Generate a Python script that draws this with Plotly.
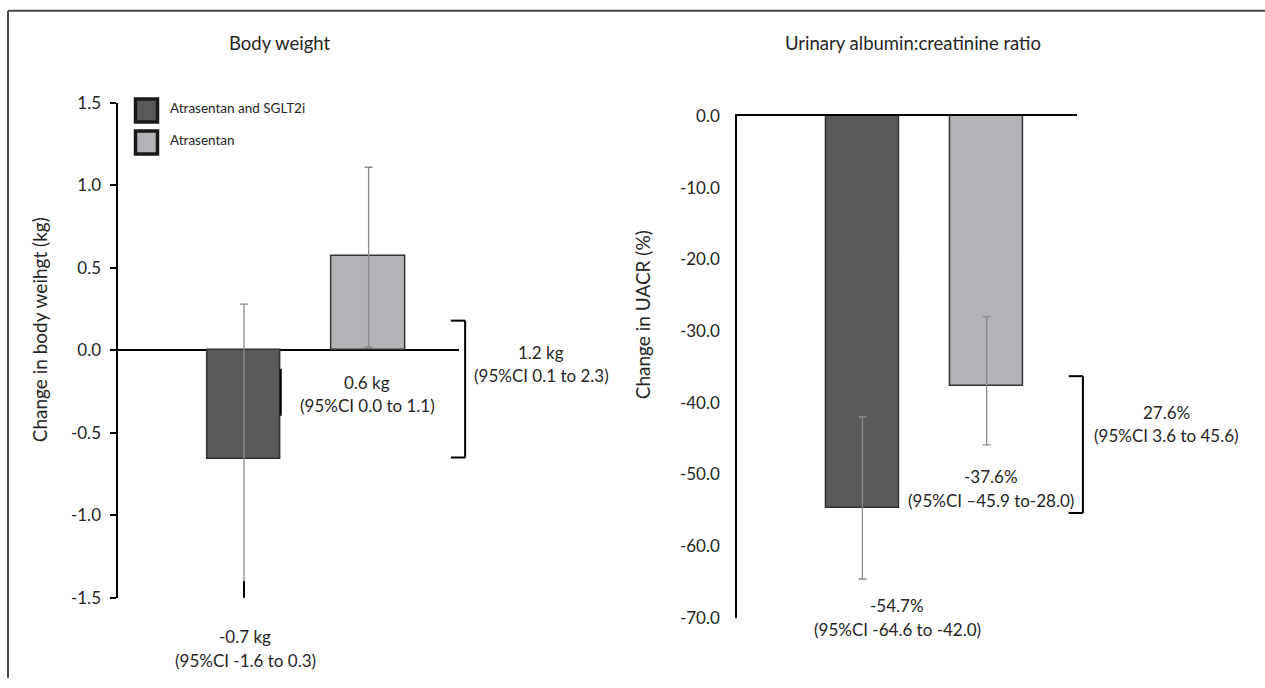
import plotly.graph_objects as go

W, H = 1265, 688
FONT = "Lato, 'Liberation Sans', sans-serif"
TXT = "#262626"

# ---------------- data ----------------
groups = ["Atrasentan and SGLT2i", "Atrasentan"]
bar_colors = ["#58595b", "#b1b3b6"]

bw_mean = [-0.66, 0.57]
bw_ci_low = [-1.60, 0.02]
bw_ci_high = [0.28, 1.11]

uacr_mean = [-54.7, -37.6]
uacr_ci_low = [-64.6, -45.9]
uacr_ci_high = [-42.0, -28.0]

bw_ticks = [1.5, 1.0, 0.5, 0.0, -0.5, -1.0, -1.5]
uacr_ticks = [0.0, -10.0, -20.0, -30.0, -40.0, -50.0, -60.0, -70.0]

# difference brackets (y extent in data units)
bw_bracket = [0.18, -0.65]
uacr_bracket = [-36.3, -55.4]

titles = ["Body weight", "Urinary albumin:creatinine ratio"]
ytitles = ["Change in body weihgt (kg)", "Change in UACR (%)"]

bw_labels = [("-0.7 kg", "(95%CI -1.6 to 0.3)"),
             ("0.6 kg", "(95%CI 0.0 to 1.1)"),
             ("1.2 kg", "(95%CI 0.1 to 2.3)")]
uacr_labels = [("-54.7%", "(95%CI -64.6 to -42.0)"),
               ("-37.6%", "(95%CI \u201345.9 to-28.0)"),
               ("27.6%", "(95%CI 3.6 to 45.6)")]


def px(x):
    return x / W


def py(y):
    # vertical pixel position (from top) -> paper fraction, with a small
    # correction for the way the page is captured
    y_in = (y - 350) * 1.033 + 350
    return 1 - y_in / H


def err(mean, lo, hi):
    plus = [h - m for m, h in zip(mean, hi)]
    minus = [m - l for m, l in zip(mean, lo)]
    return plus, minus


fig = go.Figure()

bw_plus, bw_minus = err(bw_mean, bw_ci_low, bw_ci_high)
ua_plus, ua_minus = err(uacr_mean, uacr_ci_low, uacr_ci_high)

for i, g in enumerate(groups):
    fig.add_trace(go.Bar(
        x=[g], y=[bw_mean[i]], width=0.59, name=g,
        marker=dict(color=bar_colors[i], line=dict(color="#333333", width=1.5)),
        error_y=dict(type="data", array=[bw_plus[i]], arrayminus=[bw_minus[i]],
                     color="#8a8a8a", thickness=1.3, width=4),
        xaxis="x", yaxis="y", showlegend=False))
    fig.add_trace(go.Bar(
        x=[g], y=[uacr_mean[i]], width=0.59, name=g,
        marker=dict(color=bar_colors[i], line=dict(color="#333333", width=1.5)),
        error_y=dict(type="data", array=[ua_plus[i]], arrayminus=[ua_minus[i]],
                     color="#8a8a8a", thickness=1.3, width=4),
        xaxis="x2", yaxis="y2", showlegend=False))

xr = [-1.008, 1.7255]
tickfont = dict(family=FONT, size=17, color=TXT)

fig.update_layout(
    width=W, height=H, margin=dict(l=0, r=0, t=0, b=0),
    paper_bgcolor="white", plot_bgcolor="white",
    barmode="group", bargap=0, showlegend=False,
    font=dict(family=FONT, color=TXT),
    xaxis=dict(domain=[px(118.4), px(459)], anchor="y", type="category",
               categoryorder="array", categoryarray=groups, range=xr,
               showticklabels=False, showline=False, showgrid=False,
               zeroline=False, ticks=""),
    yaxis=dict(domain=[py(597), py(103)], anchor="x", range=[-1.5, 1.5],
               tickvals=bw_ticks, ticktext=[f"{v:.1f}" for v in bw_ticks],
               showgrid=False,
               showline=True, linecolor="black", linewidth=2,
               ticks="outside", ticklen=6, tickwidth=1.5, tickcolor="black",
               zeroline=True, zerolinecolor="black", zerolinewidth=2,
               tickfont=tickfont, ticklabelstandoff=6),
    xaxis2=dict(domain=[px(737.2), px(1076.8)], anchor="y2", type="category",
                categoryorder="array", categoryarray=groups, range=xr,
                side="top", showticklabels=False, showline=True,
                linecolor="black", linewidth=2, showgrid=False,
                zeroline=False, ticks=""),
    yaxis2=dict(domain=[py(617), py(116)], anchor="x2", range=[-70, 0],
                tickvals=uacr_ticks,
                ticktext=[f"{v:.1f}" for v in uacr_ticks], showgrid=False,
                showline=True, linecolor="black", linewidth=2, ticks="",
                zeroline=False, tickfont=tickfont, ticklabelstandoff=12),
)

shapes = []
# outer frame (top and left edges)
shapes.append(dict(type="line", xref="paper", yref="paper",
                   x0=px(8), x1=1, y0=py(11), y1=py(11),
                   line=dict(color="#4a4a4a", width=2)))
shapes.append(dict(type="line", xref="paper", yref="paper",
                   x0=px(8), x1=px(8), y0=py(11), y1=0,
                   line=dict(color="#4a4a4a", width=2)))

# difference brackets
for yref, xdom, (ytop, ybot) in [("y", "x domain", bw_bracket),
                                 ("y2", "x2 domain", uacr_bracket)]:
    path_line = dict(color="black", width=2)
    shapes.append(dict(type="line", xref=xdom, yref=yref, x0=1.018, x1=1.018,
                       y0=ytop, y1=ybot, line=path_line))
    shapes.append(dict(type="line", xref=xdom, yref=yref, x0=0.976, x1=1.018,
                       y0=ytop, y1=ytop, line=path_line))
    shapes.append(dict(type="line", xref=xdom, yref=yref, x0=0.976, x1=1.018,
                       y0=ybot, y1=ybot, line=path_line))

# dark artefacts in the body weight panel (heavy strokes on bar 1)
shapes.append(dict(type="line", xref="x", yref="y", x0=0, x1=0,
                   y0=bw_ci_low[0], y1=bw_ci_low[0] + 0.2,
                   line=dict(color="black", width=2)))
shapes.append(dict(type="line", xref="x", yref="y", x0=-0.045, x1=0.045,
                   y0=bw_ci_low[0], y1=bw_ci_low[0],
                   line=dict(color="black", width=2)))
shapes.append(dict(type="line", xref="x", yref="y", x0=0.295, x1=0.295,
                   y0=bw_mean[0] * 0.17, y1=bw_mean[0] * 0.6,
                   line=dict(color="black", width=2)))

# legend swatches
for i, c in enumerate(bar_colors):
    top = 99 + i * 32
    shapes.append(dict(type="rect", xref="paper", yref="paper",
                       x0=px(135.5), x1=px(157.5), y0=py(top + 23), y1=py(top),
                       fillcolor=c, line=dict(color="#1a1a1a", width=3.5)))

fig.update_layout(shapes=shapes)

ann = []


def text(t, x, y, size=17, xanchor="center", angle=0):
    ann.append(dict(text=t, x=px(x), y=py(y), xref="paper", yref="paper",
                    showarrow=False, xanchor=xanchor, yanchor="middle",
                    textangle=angle,
                    font=dict(family=FONT, size=size, color=TXT)))


text(titles[0], 280, 43, size=18.5)
text(titles[1], 913, 43, size=18.5)
text(ytitles[0], 39, 330, size=19, angle=-90)
text(ytitles[1], 642, 315, size=19, angle=-90)
text(groups[0], 168, 108, size=13.5, xanchor="left")
text(groups[1], 168, 140, size=13.5, xanchor="left")

bw_pos = [(245, 636), (367, 382), (541, 352)]
ua_pos = [(897, 605), (991, 476), (1166, 412)]
for (l1, l2), (x, y) in zip(bw_labels + uacr_labels, bw_pos + ua_pos):
    text(l1, x, y)
    text(l2, x, y + 23.5)

fig.update_layout(annotations=ann)

post = ("document.documentElement.style.margin='0px';"
        "document.body.style.margin='0px';")

fig.write_html("out.html", config={"displayModeBar": False},
               post_script=post)
